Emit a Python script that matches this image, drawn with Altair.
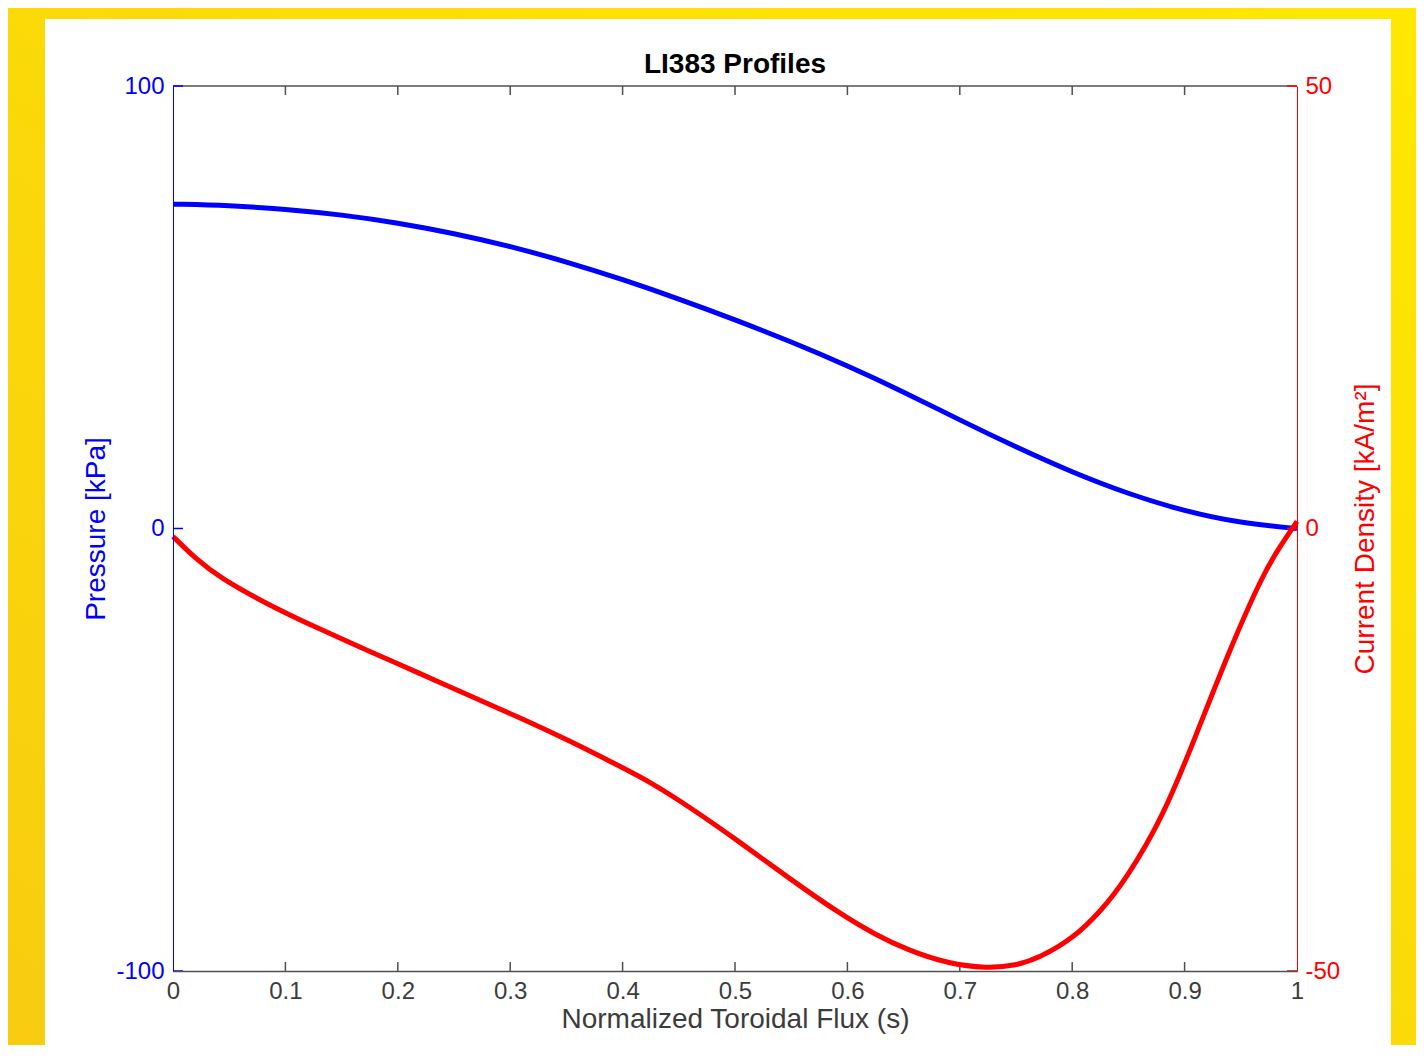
import altair as alt
import pandas as pd

# ---- data ----
s_p = [0.0, 0.05, 0.1, 0.15, 0.2, 0.25, 0.3, 0.35, 0.4, 0.45, 0.5,
       0.55, 0.6, 0.65, 0.7, 0.75, 0.8, 0.85, 0.9, 0.95, 1.0]
pressure = [73.3, 73.0, 72.2, 70.9, 69.1, 66.7, 63.8, 60.3, 56.3, 51.9, 47.2,
            42.2, 36.8, 30.9, 24.5, 18.4, 12.7, 7.8, 3.9, 1.2, 0.0]

s_j = [0.0, 0.02, 0.042, 0.086, 0.131, 0.175, 0.22, 0.264, 0.309, 0.353, 0.398,
       0.424, 0.46, 0.504, 0.55, 0.593, 0.625, 0.653, 0.69, 0.724, 0.75, 0.771,
       0.801, 0.825, 0.847, 0.881, 0.911, 0.94, 0.97, 0.985, 1.0]
current = [-0.9, -3.4, -5.6, -8.7, -11.4, -13.9, -16.4, -18.9, -21.4, -24.0, -26.9,
           -28.6, -31.5, -35.4, -39.7, -43.5, -45.9, -47.6, -49.2, -49.7, -49.4, -48.5,
           -46.3, -43.3, -39.8, -32.6, -23.1, -13.7, -5.1, -2.0, 0.8]

x_label_values = [0, 0.1, 0.2, 0.3, 0.4, 0.5, 0.6, 0.7, 0.8, 0.9, 1]
x_tick_values = [0.1, 0.2, 0.3, 0.4, 0.5, 0.6, 0.7, 0.8, 0.9]
p_ticks = [-100, 0, 100]
j_ticks = [-50, 0, 50]

title_text = "LI383 Profiles"
x_title = "Normalized Toroidal Flux (s)"
p_title = "Pressure [kPa]"
j_title = "Current Density [kA/m\u00b2]"

# ---- style ----
W, H = 1124, 885
FONT = "Liberation Sans"
BLUE = "#0000FF"
RED = "#FF0000"
GRAY = "#3C3C3C"
LINEGRAY = "#505050"

df_p = pd.DataFrame({"s": s_p, "p": pressure})
df_j = pd.DataFrame({"s": s_j, "j": current})
df_xt = pd.DataFrame({"s": x_tick_values})
df_pt = pd.DataFrame({"p": p_ticks})
df_jt = pd.DataFrame({"j": j_ticks})

xscale = alt.Scale(domain=[0, 1], nice=False, zero=False)
pscale = alt.Scale(domain=[-100, 100], nice=False, zero=False)
jscale = alt.Scale(domain=[-50, 50], nice=False, zero=False)

x_axis = alt.Axis(
    orient="bottom", values=x_label_values, labelExpr="'' + datum.value",
    grid=False, ticks=False, tickSize=0, domainColor=LINEGRAY, domainWidth=1.5,
    labelFont=FONT, labelFontSize=24, labelColor=GRAY, labelPadding=8,
    labelFlush=False, labelOverlap=False,
    title=x_title, titleFont=FONT, titleFontSize=28, titleFontWeight="normal",
    titleColor=GRAY, titlePadding=2, zindex=1,
)
p_axis = alt.Axis(
    orient="left", values=p_ticks, labelExpr="'' + datum.value",
    grid=False, ticks=False, tickSize=0, domainColor=BLUE, domainWidth=1,
    labelFont=FONT, labelFontSize=24, labelColor=BLUE, labelPadding=9,
    labelFlush=False, labelOverlap=False,
    title=p_title, titleFont=FONT, titleFontSize=28, titleFontWeight="normal",
    titleColor=BLUE, titlePadding=5, zindex=1,
)
j_axis = alt.Axis(
    orient="right", values=j_ticks, labelExpr="'' + datum.value",
    grid=False, ticks=False, tickSize=0, domainColor=RED, domainWidth=1,
    labelFont=FONT, labelFontSize=24, labelColor=RED, labelPadding=8,
    labelFlush=False, labelOverlap=False,
    title=j_title, titleFont=FONT, titleFontSize=28, titleFontWeight="normal",
    titleColor=RED, titlePadding=12, titleAngle=270, titleBaseline="top", zindex=1,
)

one = alt.Data(values=[{}])

gradient = {
    "gradient": "linear", "x1": 0, "y1": 1, "x2": 1, "y2": 0,
    "stops": [{"offset": 0, "color": "#F8CC10"}, {"offset": 1, "color": "#FEE800"}],
}

bg = alt.Chart(one).mark_rect(fill=gradient, strokeWidth=0).encode(
    x=alt.value(-170), x2=alt.value(W + 125), y=alt.value(-90), y2=alt.value(H + 100)
)
panel = alt.Chart(one).mark_rect(fill="white", strokeWidth=0).encode(
    x=alt.value(-128), x2=alt.value(1218), y=alt.value(-67), y2=alt.value(H + 100)
)
top_line = alt.Chart(one).mark_rule(color=LINEGRAY, strokeWidth=1.5).encode(
    x=alt.value(0), x2=alt.value(W), y=alt.value(0)
)
title_mark = alt.Chart(alt.Data(values=[{"t": title_text}])).mark_text(
    font=FONT, fontSize=28, fontWeight="bold", color="black",
    align="center", baseline="alphabetic",
).encode(text="t:N", x=alt.value(W / 2), y=alt.value(-13))

xt_bottom = alt.Chart(df_xt).mark_rule(color=LINEGRAY, strokeWidth=1.5).encode(
    x=alt.X("s:Q", scale=xscale, axis=x_axis), y=alt.value(H), y2=alt.value(H - 9)
)
xt_top = alt.Chart(df_xt).mark_rule(color=LINEGRAY, strokeWidth=1.5).encode(
    x=alt.X("s:Q", scale=xscale, axis=x_axis), y=alt.value(0), y2=alt.value(9)
)

blue_line = alt.Chart(df_p).mark_line(color=BLUE, strokeWidth=5, interpolate="basis").encode(
    x=alt.X("s:Q", scale=xscale, axis=x_axis),
    y=alt.Y("p:Q", scale=pscale, axis=p_axis),
)
red_line = alt.Chart(df_j).mark_line(color=RED, strokeWidth=5, interpolate="basis").encode(
    x=alt.X("s:Q", scale=xscale, axis=x_axis),
    y=alt.Y("j:Q", scale=jscale, axis=j_axis),
)
p_tick_rules = alt.Chart(df_pt).mark_rule(color=BLUE, strokeWidth=1.5).encode(
    x=alt.value(0), x2=alt.value(10), y=alt.Y("p:Q", scale=pscale, axis=None)
)
j_tick_rules = alt.Chart(df_jt).mark_rule(color=RED, strokeWidth=1.5).encode(
    x=alt.value(W), x2=alt.value(W - 10), y=alt.Y("j:Q", scale=jscale, axis=None)
)

chart = alt.layer(
    bg, panel, top_line, title_mark, xt_bottom, xt_top,
    blue_line, p_tick_rules, red_line, j_tick_rules,
).resolve_scale(
    y="independent"
).properties(
    width=W, height=H,
    autosize=alt.AutoSizeParams(type="none"),
    padding={"left": 165, "top": 78, "right": 119, "bottom": 74},
    background="#FAD90A",
).configure_view(stroke=None)

chart.save("out.html", embed_options={"renderer": "svg", "actions": False})
